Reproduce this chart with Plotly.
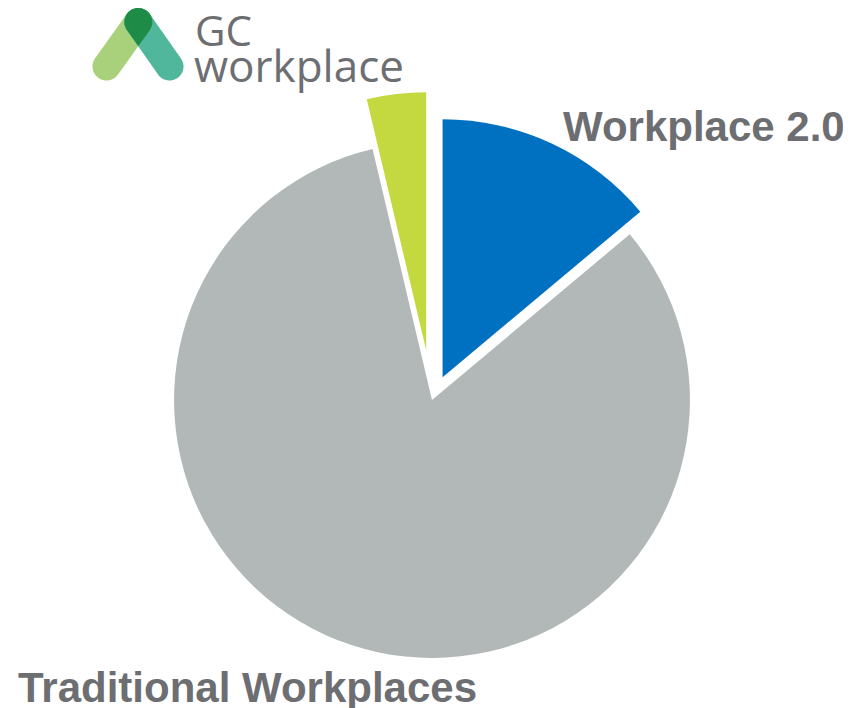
import numpy as np
import plotly.graph_objects as go

# The page body has an 8px default margin; the figure is sized so it fits the window.
OFF = 8
W, H = 851 - OFF, 708 - OFF

# ---- data ----
labels = ["Workplace 2.0", "Traditional Workplaces", "Other"]
values = [13.9, 82.4, 3.7]
pulls = [0.097, 0.0, 0.194]
colors = ["#0070C0", "#B2B8B7", "#C4D940"]

TEXT_GRAY = "#6D6E71"

# pie centre / radius in reference page pixels
CX, CY, R = 432 - OFF, 400 - OFF, 258
half = R * (1 + max(pulls))

fig = go.Figure()
fig.add_trace(go.Pie(
    labels=labels, values=values, sort=False, direction="clockwise", rotation=0,
    pull=pulls, marker=dict(colors=colors, line=dict(width=0)),
    textinfo="none", hoverinfo="label+percent", showlegend=False,
    domain=dict(x=[(CX - half) / W, (CX + half) / W], y=[0, 2 * (H - CY) / H]),
))

# ---- logo helpers (page pixel space -> paper space) ----
def to_paper(pts):
    return [((x - OFF) / W, 1 - (y - OFF) / H) for x, y in pts]

def path_from(pts):
    p = to_paper(pts)
    return "M " + " L ".join(f"{x:.5f},{y:.5f}" for x, y in p) + " Z"

def capsule(a, b, r, n=40):
    a = np.array(a, float); b = np.array(b, float)
    d = b - a
    ang = np.arctan2(d[1], d[0])
    pts = []
    for t in np.linspace(ang - np.pi / 2, ang + np.pi / 2, n):
        pts.append((b[0] + r * np.cos(t), b[1] + r * np.sin(t)))
    for t in np.linspace(ang + np.pi / 2, ang + 3 * np.pi / 2, n):
        pts.append((a[0] + r * np.cos(t), a[1] + r * np.sin(t)))
    return pts

top = (138.3, 22.0)
bl = (106.5, 66.5)
br = (169.5, 66.5)
rad = 14.0

shapes = []
shapes.append(dict(type="path", xref="paper", yref="paper", path=path_from(capsule(top, bl, rad)),
                   fillcolor="#A9D07B", line=dict(width=0), layer="above"))
shapes.append(dict(type="path", xref="paper", yref="paper", path=path_from(capsule(top, br, rad)),
                   fillcolor="#50B69C", line=dict(width=0), layer="above"))

# overlap teardrop
c = np.array(top)
dL = np.array(bl) - c; dL /= np.linalg.norm(dL)
nL = np.array([-dL[1], dL[0]])
if nL[0] < 0:
    nL = -nL
T1 = c + rad * nL
dR = np.array(br) - c; dR /= np.linalg.norm(dR)
nR = np.array([-dR[1], dR[0]])
if nR[0] > 0:
    nR = -nR
T2 = c + rad * nR
t = (c[0] - T1[0]) / dL[0]
P = T1 + t * dL
a1 = np.arctan2(T1[1] - c[1], T1[0] - c[0])
a2 = np.arctan2(T2[1] - c[1], T2[0] - c[0])
if a2 < a1:
    a2 += 2 * np.pi
arc_angles = np.linspace(a1, a1 - (2 * np.pi - (a2 - a1)), 50)
tear = [tuple(P)] + [(c[0] + rad * np.cos(q), c[1] + rad * np.sin(q)) for q in arc_angles]
shapes.append(dict(type="path", xref="paper", yref="paper", path=path_from(tear),
                   fillcolor="#1E8B47", line=dict(width=0), layer="above"))

def px(x):
    return (x - OFF) / W

def py(y):
    return 1 - (y - OFF) / H

annotations = [
    dict(text="GC", x=px(193), y=py(29), xref="paper", yref="paper", xanchor="left", yanchor="middle",
         showarrow=False, font=dict(family="Open Sans", size=42, color=TEXT_GRAY)),
    dict(text="workplace", x=px(192), y=py(65), xref="paper", yref="paper", xanchor="left", yanchor="middle",
         showarrow=False, font=dict(family="Open Sans", size=44, color=TEXT_GRAY)),
    dict(text="<b>Workplace 2.0</b>", x=px(561), y=py(126), xref="paper", yref="paper",
         xanchor="left", yanchor="middle", showarrow=False,
         font=dict(family="Liberation Sans, Arial", size=42, color=TEXT_GRAY)),
    dict(text="<b>Traditional Workplaces</b>", x=px(16), y=py(687), xref="paper", yref="paper",
         xanchor="left", yanchor="middle", showarrow=False,
         font=dict(family="Liberation Sans, Arial", size=42, color=TEXT_GRAY)),
]

fig.update_layout(
    width=W, height=H, margin=dict(l=0, r=0, t=0, b=0),
    paper_bgcolor="white", plot_bgcolor="white",
    shapes=shapes, annotations=annotations, showlegend=False,
)

fig.write_html("out.html")
